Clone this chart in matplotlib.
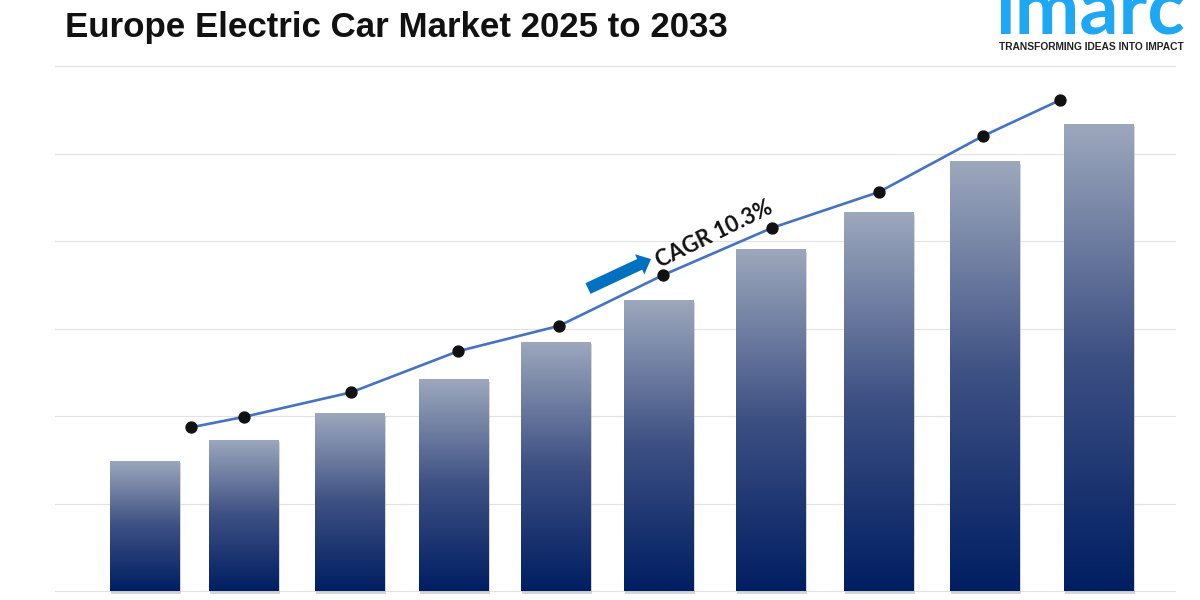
import numpy as np
import matplotlib.pyplot as plt
from matplotlib.colors import LinearSegmentedColormap
from matplotlib.patches import FancyArrowPatch

# Werte (eine Einheit = ein Gitterabstand)
categories = ["2024", "2025", "2026", "2027", "2028", "2029", "2030", "2031", "2032", "2033"]
bar_values = [1.49, 1.73, 2.03, 2.42, 2.85, 3.33, 3.91, 4.33, 4.91, 5.34]
line_values = [1.87, 1.99, 2.27, 2.74, 3.03, 3.61, 4.15, 4.56, 5.20, 5.61]

# Layout in Pixeln, die Balken stehen im Original nicht gleichmaessig
bar_left = [110, 209, 315, 419, 521, 624, 736, 844, 950, 1064]
bar_width = 70
line_x = [191, 244, 351, 458, 559, 663, 772, 879, 983, 1060]

fig = plt.figure(figsize=(12, 6), dpi=100)
ax = fig.add_axes([0, 0, 1, 1])
unit = 87.5
ax.set_xlim(0, 1200)
ax.set_ylim(-9 / unit, 591 / unit)
ax.axis("off")

# Gitterlinien
for g in range(7):
    ax.plot([55, 1175], [g, g], color="#e2e2e2", linewidth=0.8, zorder=1)

# Balken mit Farbverlauf
cmap = LinearSegmentedColormap.from_list("bars", ["#001e62", "#3d5083", "#9da8bd"])
for left, val in zip(bar_left, bar_values):
    ax.bar(left + bar_width / 2 + 1, val, bar_width, bottom=-0.03, color="#bbbbbb", alpha=0.6, zorder=2)
    bar = ax.bar(left, val, bar_width, align="edge", color="none", zorder=3)[0]
    im = ax.imshow(np.linspace(1, 0, 256).reshape(-1, 1), cmap=cmap, aspect="auto",
                   extent=(left, left + bar_width, 0, val), zorder=3)
    im.set_clip_path(bar)
ax.set_xlim(0, 1200)
ax.set_ylim(-9 / unit, 591 / unit)

# Linie
ax.plot(line_x, line_values, color="#4472c4", linewidth=1.9, zorder=4)
ax.scatter(line_x, line_values, s=62, color="#111111", zorder=5)

# CAGR Pfeil und Text
ax.add_patch(FancyArrowPatch((588, 3.457), (651, 3.794), mutation_scale=1, shrinkA=0, shrinkB=0,
                             arrowstyle="simple,head_width=16,head_length=9,tail_width=8.5",
                             color="#0070c0", linewidth=0, zorder=5))
ax.text(714, 4.08, "CAGR 10.3%", rotation=26, rotation_mode="anchor", ha="center", va="center",
        fontsize=15.8, fontweight="bold", family="Lato", color="#111111", zorder=6)

# Titel und Logo
fig.text(65 / 1200, 1 - 27.5 / 600, "Europe Electric Car Market 2025 to 2033", fontsize=25.1,
         fontweight="bold", family="Liberation Sans", color="#111111", va="center")
fig.text(1090.5 / 1200, 1 - 34 / 600, "imarc", fontsize=55.6, fontweight="bold", family="Lato",
         color="#1ea7f2", ha="center", va="baseline")
fig.text(1091.5 / 1200, 1 - 46.5 / 600, "TRANSFORMING IDEAS INTO IMPACT", fontsize=7.4,
         fontweight="bold", family="Liberation Sans", color="#222222", ha="center", va="center")

plt.savefig("out.png", dpi=100)
